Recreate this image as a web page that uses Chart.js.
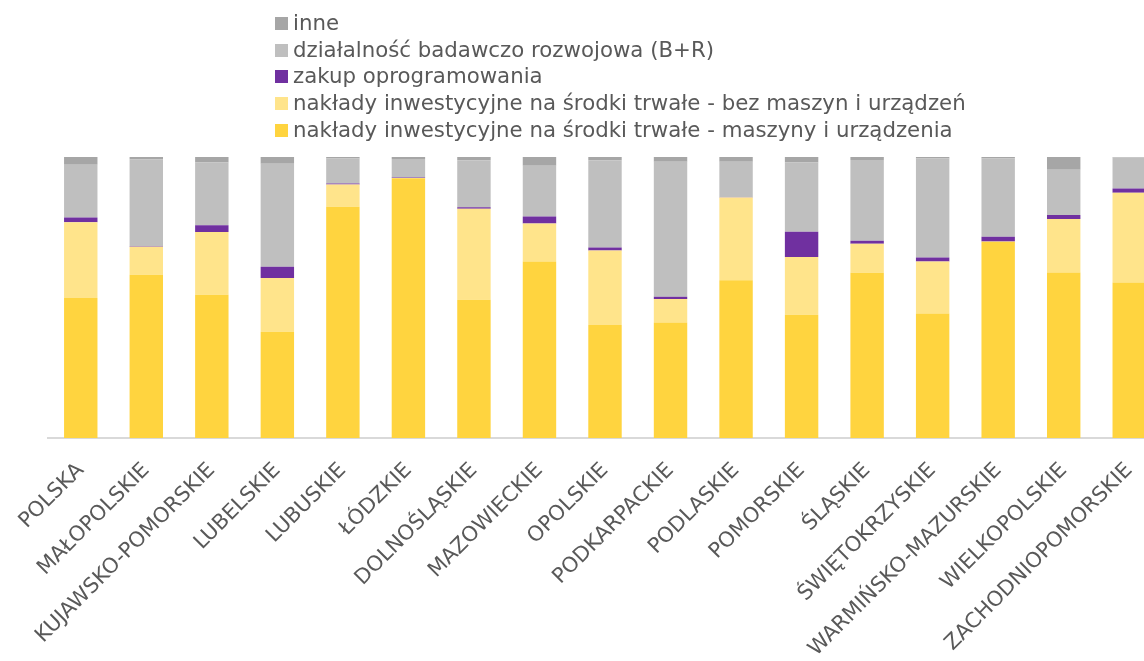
<!DOCTYPE html>
<html>
<head>
<meta charset="utf-8">
<script src="https://cdn.jsdelivr.net/npm/chart.js@4.4.1/dist/chart.umd.min.js"></script>
<style>
  html, body { margin: 0; padding: 0; background: #fff; overflow: hidden; width: 1144px; height: 661px; }
  #wrap { position: absolute; left: -60px; top: 0; width: 1230px; height: 661px; }
  #legend { position: absolute; left: 275px; top: 9px; font-family: "DejaVu Sans", sans-serif; font-size: 21.3px; color: #595959; }
  .row { height: 26.7px; display: flex; align-items: center; white-space: nowrap; }
  .box { width: 13px; height: 13px; margin-right: 5px; flex: none; position: relative; top: 1px; }
</style>
</head>
<body>
<div id="wrap"><canvas id="chart" width="1230" height="661"></canvas></div>
<div id="legend"></div>
<script>
const categories = ["POLSKA", "MAŁOPOLSKIE", "KUJAWSKO-POMORSKIE", "LUBELSKIE", "LUBUSKIE", "ŁÓDZKIE",
  "DOLNOŚLĄSKIE", "MAZOWIECKIE", "OPOLSKIE", "PODKARPACKIE", "PODLASKIE", "POMORSKIE", "ŚLĄSKIE",
  "ŚWIĘTOKRZYSKIE", "WARMIŃSKO-MAZURSKIE", "WIELKOPOLSKIE", "ZACHODNIOPOMORSKIE"];

// udział w %
const maszyny        = [49.8, 58.1, 51.0, 37.8, 82.3, 92.4, 49.2, 62.8, 40.2, 41.1, 56.1, 43.9, 58.8, 44.3, 69.8, 58.9, 55.3];
const bezMaszyn      = [27.0, 10.0, 22.3, 19.1,  7.9,  0.1, 32.4, 13.5, 26.5,  8.4, 29.5, 20.5, 10.3, 18.5,  0.1, 19.0, 32.0];
const oprogramowanie = [ 1.7,  0.1,  2.4,  4.0,  0.4,  0.2,  0.5,  2.5,  1.1,  0.8,  0.1,  9.0,  1.1,  1.4,  1.7,  1.5,  1.5];
const badawczo       = [18.7, 31.0, 22.3, 36.7,  8.9,  6.6, 16.7, 18.1, 31.0, 48.0, 12.6, 24.6, 28.7, 35.3, 27.9, 16.1, 11.0];
const inne           = [ 2.8,  0.8,  2.0,  2.4,  0.5,  0.7,  1.2,  3.1,  1.2,  1.7,  1.7,  2.0,  1.1,  0.5,  0.5,  4.5,  0.2];

const seriesNames = [
  "nakłady inwestycyjne na środki trwałe - maszyny i urządzenia",
  "nakłady inwestycyjne na środki trwałe - bez maszyn i urządzeń",
  "zakup oprogramowania",
  "działalność badawczo rozwojowa (B+R)",
  "inne"
];
const seriesColors = ["#FFD43F", "#FFE48B", "#7030A0", "#BFBFBF", "#A6A6A6"];
const seriesData = [maszyny, bezMaszyn, oprogramowanie, badawczo, inne];

const textColor = "#595959";

const datasets = seriesData.map((d, i) => ({
  label: seriesNames[i],
  data: d,
  backgroundColor: seriesColors[i],
  borderWidth: 0,
  categoryPercentage: 1,
  barPercentage: 0.51
}));

// legenda HTML (kolejność odwrócona, jak w oryginale)
const legend = document.getElementById("legend");
for (let i = seriesNames.length - 1; i >= 0; i--) {
  const row = document.createElement("div");
  row.className = "row";
  const box = document.createElement("span");
  box.className = "box";
  box.style.background = seriesColors[i];
  const txt = document.createElement("span");
  txt.textContent = seriesNames[i];
  row.appendChild(box);
  row.appendChild(txt);
  legend.appendChild(row);
}

new Chart(document.getElementById("chart"), {
  type: "bar",
  data: { labels: categories, datasets: datasets },
  options: {
    responsive: false,
    animation: false,
    devicePixelRatio: 1,
    layout: { padding: { top: 157, left: 108, right: 8, bottom: 0 } },
    plugins: { legend: { display: false }, tooltip: { enabled: false } },
    scales: {
      x: {
        stacked: true,
        grid: { display: false },
        border: { display: true, color: "#D9D9D9", width: 2 },
        ticks: {
          autoSkip: false,
          minRotation: 45,
          maxRotation: 45,
          padding: 12,
          color: textColor,
          font: { family: "DejaVu Sans", size: 21 }
        },
        afterFit(scale) { scale.height = 223; }
      },
      y: {
        stacked: true,
        display: false,
        min: 0,
        max: 100
      }
    }
  }
});
</script>
</body>
</html>
